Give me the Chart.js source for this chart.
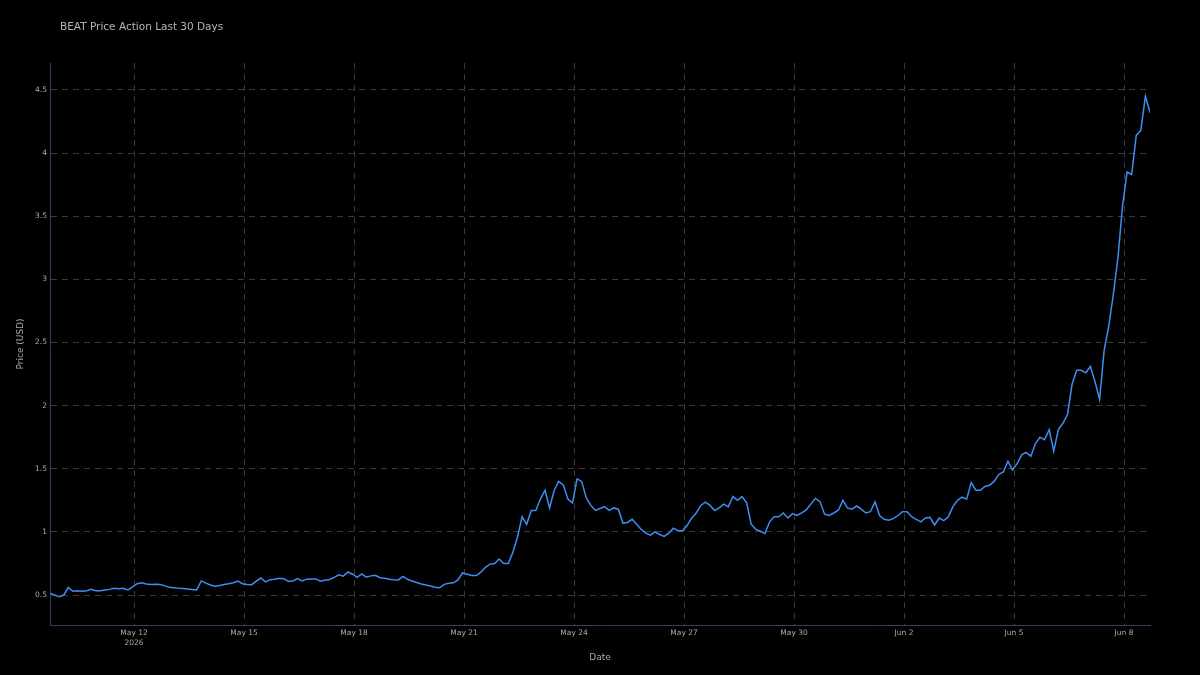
<!DOCTYPE html>
<html>
<head>
<meta charset="utf-8">
<script src="https://cdn.jsdelivr.net/npm/chart.js@4/dist/chart.umd.min.js"></script>
<style>
  html, body { margin: 0; padding: 0; background: #000; }
  #wrap { width: 1200px; height: 675px; position: relative; background: #000; }
</style>
</head>
<body>
<div id="wrap"><canvas id="c"></canvas></div>
<script>
// ---- data (3-hour samples, x in days relative to May 12 2026 00:00) ----
const chartTitle = 'BEAT Price Action Last 30 Days';
const startDay = -2.2917;
const stepDays = 0.125;
const prices = [
  0.515, 0.50, 0.487, 0.50, 0.56, 0.53, 0.535, 0.53, 0.535, 0.545,
  0.535, 0.534, 0.54, 0.545, 0.553, 0.55, 0.553, 0.54, 0.565, 0.59,
  0.597, 0.588, 0.584, 0.585, 0.584, 0.575, 0.561, 0.558, 0.555, 0.552,
  0.549, 0.545, 0.54, 0.612, 0.595, 0.58, 0.57, 0.575, 0.583, 0.59,
  0.598, 0.611, 0.59, 0.583, 0.582, 0.61, 0.635, 0.605, 0.622, 0.626,
  0.633, 0.63, 0.608, 0.612, 0.63, 0.612, 0.626, 0.628, 0.628, 0.61,
  0.618, 0.624, 0.64, 0.66, 0.65, 0.683, 0.665, 0.64, 0.668, 0.642,
  0.652, 0.656, 0.637, 0.634, 0.626, 0.622, 0.62, 0.648, 0.625, 0.612,
  0.60, 0.588, 0.58, 0.571, 0.562, 0.558, 0.585, 0.594, 0.597, 0.62,
  0.675, 0.665, 0.655, 0.655, 0.682, 0.72, 0.745, 0.75, 0.785, 0.75,
  0.75, 0.84, 0.96, 1.12, 1.06, 1.17, 1.17, 1.26, 1.33, 1.19,
  1.33, 1.40, 1.37, 1.26, 1.23, 1.42, 1.40, 1.27, 1.21, 1.17,
  1.185, 1.20, 1.17, 1.19, 1.18, 1.07, 1.075, 1.10, 1.06, 1.02,
  0.99, 0.975, 1.0, 0.98, 0.965, 0.99, 1.03, 1.01, 1.01, 1.05,
  1.11, 1.15, 1.21, 1.235, 1.21, 1.17, 1.19, 1.22, 1.20, 1.28,
  1.25, 1.28, 1.23, 1.06, 1.02, 1.005, 0.987, 1.08, 1.12, 1.12,
  1.15, 1.11, 1.145, 1.13, 1.15, 1.175, 1.22, 1.265, 1.24, 1.14,
  1.13, 1.15, 1.172, 1.25, 1.19, 1.18, 1.205, 1.18, 1.15, 1.16,
  1.238, 1.13, 1.10, 1.093, 1.105, 1.13, 1.16, 1.16, 1.12, 1.10,
  1.08, 1.11, 1.115, 1.055, 1.11, 1.09, 1.12, 1.20, 1.25, 1.275,
  1.26, 1.39, 1.33, 1.33, 1.36, 1.37, 1.40, 1.455, 1.475, 1.56,
  1.49, 1.54, 1.61, 1.63, 1.60, 1.70, 1.75, 1.73, 1.81, 1.64,
  1.81, 1.86, 1.93, 2.17, 2.28, 2.28, 2.26, 2.31, 2.19, 2.05,
  2.44, 2.63, 2.88, 3.17, 3.58, 3.85, 3.83, 4.14, 4.18, 4.45,
  4.32
];
const xTickDays = [0, 3, 6, 9, 12, 15, 18, 21, 24, 27];
const xTickLabels = [['May 12', '2026'], 'May 15', 'May 18', 'May 21', 'May 24', 'May 27', 'May 30', 'Jun 2', 'Jun 5', 'Jun 8'];
const yTicks = [0.5, 1, 1.5, 2, 2.5, 3, 3.5, 4, 4.5];
const yMin = 0.263, yMax = 4.713;

// ---- build ----
const points = prices.map((v, i) => ({ x: startDay + i * stepDays, y: v }));
const FONT = "'DejaVu Sans', sans-serif";
const gridColor = '#3a3a3a';
const axisColor = '#2c4360';

const titlePlugin = {
  id: 'plotTitle',
  afterDraw(chart) {
    const ctx = chart.ctx;
    ctx.save();
    ctx.font = "10.5px " + FONT;
    ctx.fillStyle = '#b4b4b4';
    ctx.textAlign = 'left';
    ctx.textBaseline = 'middle';
    ctx.fillText(chartTitle, 60, 27);
    ctx.restore();
  }
};

new Chart(document.getElementById('c'), {
  type: 'line',
  data: {
    datasets: [{
      data: points,
      borderColor: '#3d8ef0',
      borderWidth: 1.5,
      pointRadius: 0,
      tension: 0,
      fill: false
    }]
  },
  options: {
    responsive: true,
    maintainAspectRatio: false,
    animation: false,
    layout: { padding: { top: 63, right: 50, left: 0, bottom: 0 } },
    plugins: { legend: { display: false }, tooltip: { enabled: false } },
    scales: {
      x: {
        type: 'linear',
        min: points[0].x,
        max: points[points.length - 1].x,
        afterBuildTicks: s => { s.ticks = xTickDays.map(v => ({ value: v })); },
        afterFit: s => { s.height = 50; },
        grid: { color: gridColor, lineWidth: 1, drawTicks: false },
        border: { display: true, color: axisColor, width: 1, dash: [6, 5] },
        ticks: {
          autoSkip: false, maxRotation: 0, padding: 3,
          color: '#aaaaaa',
          font: { family: FONT, size: 7.5, lineHeight: 1.35 },
          callback: (v, i) => xTickLabels[i]
        },
        title: {
          display: true, text: 'Date', color: '#aaaaaa',
          font: { family: FONT, size: 9 },
          padding: { top: 0, bottom: 12 }
        }
      },
      y: {
        type: 'linear',
        min: yMin, max: yMax,
        afterBuildTicks: s => { s.ticks = yTicks.map(v => ({ value: v })); },
        afterFit: s => { s.width = 50; },
        grid: { color: gridColor, lineWidth: 1, drawTicks: false },
        border: { display: true, color: axisColor, width: 1, dash: [6, 5] },
        ticks: {
          padding: 3, color: '#aaaaaa',
          font: { family: FONT, size: 7.5 },
          callback: v => String(v)
        },
        title: {
          display: true, text: 'Price (USD)', color: '#aaaaaa',
          font: { family: FONT, size: 9 },
          padding: { top: 15, bottom: 0 }
        }
      }
    }
  },
  plugins: [titlePlugin]
});
</script>
</body>
</html>
